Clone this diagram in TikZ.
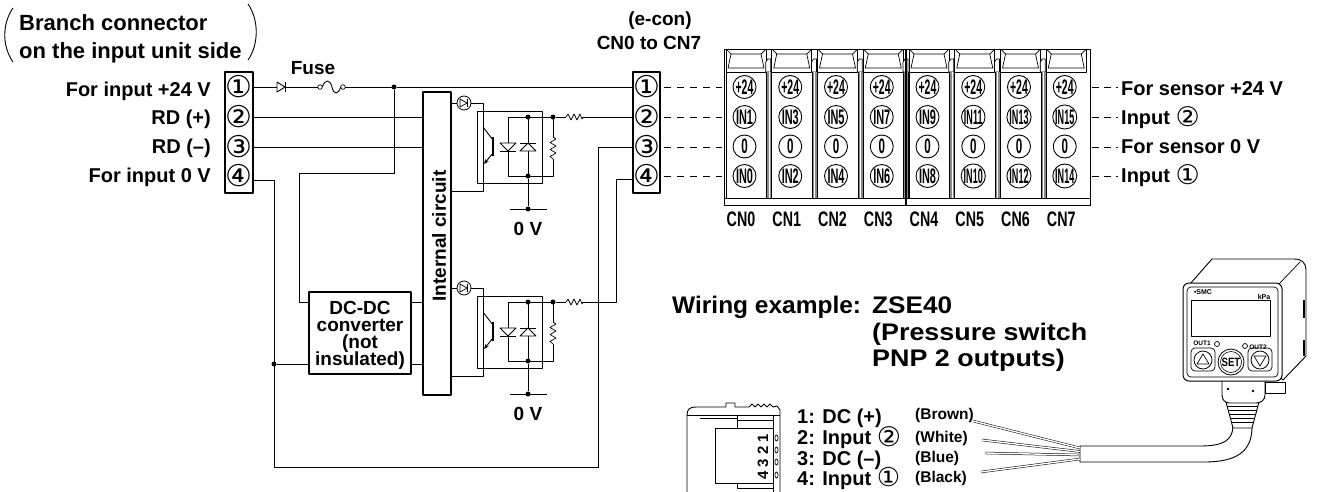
\documentclass[tikz,border=0pt]{standalone}
\usepackage{fontspec}
\usepackage{graphicx}
\setmainfont{Liberation Sans}
\newfontfamily\symfont{DejaVu Sans}
\usetikzlibrary{arrows.meta,calc}

\newcommand{\setfs}[1]{\fontsize{#1}{#1}\selectfont}
\newcommand{\cnd}[2][0.62]{\scalebox{#1}[1]{#2}}
\newcommand{\cnum}[1]{\raisebox{-2.5pt}{\symfont\setfs{27}\mdseries #1}}
\newcommand{\cnumlow}[1]{\raisebox{-1pt}{\symfont\setfs{26}\mdseries #1}}

\tikzset{
  wire/.style={line width=0.9pt},
  frame/.style={draw, line width=1.1pt, inner sep=0pt, fill=white},
  lbl/.style={font=\setfs{20}\bfseries, inner sep=0pt},
  mlbl/.style={font=\setfs{19}\bfseries, inner sep=0pt},
  blbl/.style={font=\setfs{24}\bfseries, inner sep=0pt},
  tlbl/.style={font=\setfs{22}\bfseries, inner sep=0pt},
  clbl/.style={font=\setfs{15.5}\bfseries, inner sep=0pt},
  pinnum/.style={font=\symfont\setfs{30}, inner sep=0pt},
  jdot/.style={circle, fill, inner sep=0pt, minimum size=5pt},
  cpin/.style={circle, draw, line width=0.9pt, minimum size=23pt, inner sep=0pt, fill=white, font=\setfs{21}\bfseries},
  cnlbl/.style={font=\setfs{21}\bfseries, inner sep=0pt},
  lead/.style={double=white, double distance=1.4pt, line width=0.5pt},
  fine/.style={line width=0.7pt},
}

\begin{document}
\begin{tikzpicture}[x=1pt, y=-1pt, line join=round]
\useasboundingbox (0,0) rectangle (1317,491);
\fill[white] (0,0) rectangle (1317,491);

% ---------- branch connector on the input unit side ----------
\node[tlbl, anchor=base west] (title1) at (19,30) {Branch connector};
\node[tlbl, anchor=base west] (title2) at (19,58) {on the input unit side};
\draw[wire] (13,8) .. controls (2,24) and (2,46) .. (13,62);
\draw[wire] (248,4) .. controls (259,20) and (259,44) .. (248,60);

\node[frame, minimum width=28pt, minimum height=121pt] (LB) at (239,132.5) {};
\foreach \n/\y/\ch in {1/87/①,2/117/②,3/147/③,4/176/④}
  \node[pinnum] (L\n) at (239,\y) {\ch};

\node[lbl, anchor=base east] (lin1) at (211,96) {For input +24 V};
\node[lbl, anchor=base east] (lin2) at (211,124) {RD (+)};
\node[lbl, anchor=base east] (lin3) at (211,153) {RD (–)};
\node[lbl, anchor=base east] (lin4) at (211,182) {For input 0 V};

% ---------- supply path: diode, fuse ----------
\coordinate (d1a) at (277,87);
\coordinate (d1b) at (285,87);
\coordinate (fa) at (320,87);
\coordinate (fb) at (343,87);
\coordinate (j24) at (394,87);
\draw[wire] (LB.east |- d1a) -- (d1a);
\filldraw[wire, fill=white] (277,82) -- (277,92) -- (285,87) -- cycle;
\draw[wire] (285,82) -- (285,92);
\draw[wire] (d1b) -- ($(fa)+(-2.3,0)$);
\node[mlbl, anchor=base] (fuselbl) at (313,74) {Fuse};
\draw[fine] (fa) circle (2.3);
\draw[fine] (fb) circle (2.3);
\draw[wire] (322.3,87) .. controls (325,79) and (330,79) .. (332,87) .. controls (334,95) and (338,95) .. (340.7,87);
\draw[wire] (345.3,87) -- (j24);
\node[jdot] (dot24) at (j24) {};

% ---------- internal circuit and DC-DC converter ----------
\node[frame, minimum width=28pt, minimum height=303pt] (IC) at (437,243.5) {};
\node[mlbl, rotate=90] (ictext) at (439,236) {Internal circuit};

\node[frame, minimum width=102pt, minimum height=82pt] (DC) at (360,333) {};
\node[font=\setfs{19}\bfseries, inner sep=0pt, anchor=base] (dct1) at (360,314) {DC-DC};
\node[font=\setfs{19}\bfseries, inner sep=0pt, anchor=base] (dct2) at (360,331) {converter};
\node[font=\setfs{19}\bfseries, inner sep=0pt, anchor=base] (dct3) at (360,348) {(not};
\node[font=\setfs{19}\bfseries, inner sep=0pt, anchor=base] (dct4) at (360,365) {insulated)};

\coordinate (k1) at (394,173);
\coordinate (k2) at (299,173);
\coordinate (k3) at (299,302);
\draw[wire] (dot24) -- (k1) -- (k2) -- (k3) -- (DC.west |- k3);
\draw[wire] (LB.east |- L2) -- (IC.west |- L2);
\draw[wire] (LB.east |- L3) -- (IC.west |- L3);
\coordinate (dc1) at (411,302);
\coordinate (dc2) at (411,364);
\draw[wire] (DC.east |- dc1) -- (IC.west |- dc1);
\draw[wire] (DC.east |- dc2) -- (IC.west |- dc2);

% 0 V return
\coordinate (g1) at (274,180);
\coordinate (g2) at (274,467);
\coordinate (g3) at (598,467);
\coordinate (g4) at (598,147);
\coordinate (gdc) at (274,364);
\draw[wire] (LB.east |- g1) -- (g1) -- (g2) -- (g3) -- (g4);
\node[jdot] (dotdc) at (gdc) {};
\draw[wire] (dotdc) -- (DC.west |- gdc);

% ---------- two input channels ----------
\foreach \c/\dy in {A/0,B/185} {
\begin{scope}[shift={(0,\dy)}]
  \node[circle, draw, line width=0.8pt, minimum size=14pt, inner sep=0pt] (led\c) at (464,103) {};
  \draw[fine] (460,99) -- (460,107) -- (467,103) -- cycle;
  \draw[fine] (467,99) -- (467,107);
  \coordinate (ret\c) at (483,191);
  \draw[wire] (IC.east |- led\c) -- (led\c.west);
  \draw[wire] (led\c.east) -- (483,103) -- (ret\c) -- (IC.east |- ret\c);
  \node[draw, line width=0.9pt, minimum width=65pt, minimum height=72pt, inner sep=0pt] (opto\c) at (509.5,147) {};
  % phototransistor
  \draw[line width=1.3pt] (493,137) -- (493,156);
  \draw[wire] (483,127) -- (493,140);
  \draw[wire, -{Stealth[length=5pt,width=4pt]}] (493,153) -- (484,164);
  % anti-parallel diodes and shunt resistor
  \draw[wire] (553,137) -- (553,117) -- (508,117) -- (508,176) -- (553,176) -- (553,159);
  \draw[wire] (528,117) -- (528,176);
  \draw[fine] (553,137) -- (556,139) -- (550,142.5) -- (556,146) -- (550,149.5) -- (556,153) -- (550,156.5) -- (553,159);
  \filldraw[wire, fill=white] (500,143) -- (516,143) -- (508,151) -- cycle;
  \draw[wire] (500,151) -- (516,151);
  \filldraw[wire, fill=white] (520,151) -- (536,151) -- (528,143) -- cycle;
  \draw[wire] (520,143) -- (536,143);
  \node[jdot] (jt\c) at (528,117) {};
  \node[jdot] (jr\c) at (553,117) {};
  \node[jdot] (jb\c) at (528,176) {};
  % 0 V
  \node[jdot] (gnd\c) at (528,209) {};
  \draw[wire] (jb\c) -- (gnd\c);
  \draw[line width=1pt] (510,209) -- (547,209);
  \node[mlbl, anchor=base] (zv\c) at (528,235) {0 V};
  % series resistor
  \draw[wire] (jr\c) -- (566,117);
  \draw[fine] (566,117) -- (568,114) -- (571,120) -- (574,114) -- (577,120) -- (580,114) -- (582,119) -- (583,117);
  \coordinate (rout\c) at (583,117);
\end{scope}
}

% ---------- e-con terminal block ----------
\node[mlbl, anchor=base] (econ) at (660,25) {(e-con)};
\node[mlbl, anchor=base] (econ2) at (649,49) {CN0 to CN7};
\node[frame, minimum width=27pt, minimum height=121pt] (RB) at (646.5,132.5) {};
\foreach \n/\y/\ch in {1/87/①,2/117/②,3/147/③,4/176/④}
  \node[pinnum] (R\n) at (646.5,\y) {\ch};

\draw[wire] (dot24) -- (RB.west |- j24);
\draw[wire] (routA) -- (RB.west |- routA);
\draw[wire] (g4) -- (RB.west |- g4);
\coordinate (q1) at (616,302);
\coordinate (q2) at (616,179);
\draw[wire] (routB) -- (q1) -- (q2) -- (RB.west |- q2);

\foreach \y in {87,117,147,176} {
  \coordinate (dl\y) at (664,\y);
  \coordinate (dr\y) at (722,\y);
  \draw[wire, dash pattern=on 7pt off 6pt] (dl\y) -- (dr\y);
}

% ---------- CN0 to CN7 connector array ----------
\def\pitch{45.75}
\draw[line width=1pt] (724,49) rectangle (1090,205);
\draw[fine] (724,198) -- (1090,198);
\foreach \i in {0,...,7} {
  \pgfmathsetmacro\L{724+\i*\pitch}
  \pgfmathtruncatemacro\odd{2*\i+1}
  \pgfmathtruncatemacro\even{2*\i}
  \pgfmathsetmacro\so{\odd>9 ? 0.43 : 0.52}
  \pgfmathsetmacro\se{\even>9 ? 0.43 : 0.52}
  % latch
  \draw[fine] (\L+2,49) -- (\L+2,72) -- (\L+42,72) -- (\L+42,49);
  \draw[fine] (\L+7,54) -- (\L+37,54) -- (\L+40,68) -- (\L+4,68) -- cycle;
  \draw[fine] (\L+2,49) -- (\L+7,54);
  \draw[fine] (\L+42,49) -- (\L+37,54);
  % connector body side
  \draw[fine] (\L+2,72) -- (\L+2,198);
  % pins
  \node[cpin] (p\i a) at (\L+20.5,87) {\cnd[0.5]{+24}};
  \node[cpin] (p\i b) at (\L+20.5,117) {\cnd[\so]{IN\odd}};
  \node[cpin] (p\i c) at (\L+20.5,146.5) {\cnd[0.55]{0}};
  \node[cpin] (p\i d) at (\L+20.5,176) {\cnd[\se]{IN\even}};
  \node[cnlbl] (cn\i) at (\L+17,219) {\cnd[0.68]{CN\i}};
}
\foreach \i in {1,...,7} {
  \pgfmathsetmacro\B{724+\i*\pitch}
  \draw[fine, fill=white] (\B-4,62) -- (\B-2,59) -- (\B+1,59) -- (\B+1,72) -- (\B-4,72) -- cycle;
  \fill[black!45] (\B-3.5,72) rectangle (\B+1.5,198);
  \draw[line width=0.5pt] (\B-3.5,72) -- (\B-3.5,198);
  \draw[line width=0.5pt] (\B+1.5,72) -- (\B+1.5,198);
  \draw[line width=0.5pt, white] (\B-1,72) -- (\B-1,198);
}
\draw[line width=1.3pt] (724+4*\pitch-1,49) -- (724+4*\pitch-1,205);

\foreach \y in {87,117,147,176} {
  \coordinate (el\y) at (1092,\y);
  \coordinate (er\y) at (1118,\y);
  \draw[wire, dash pattern=on 7pt off 5pt] (el\y) -- (er\y);
}
\node[lbl, anchor=base west] (s1) at (1121,95) {For sensor +24 V};
\node[lbl, anchor=base west] (s2) at (1121,124) {Input \cnum{②}};
\node[lbl, anchor=base west] (s3) at (1121,153) {For sensor 0 V};
\node[lbl, anchor=base west] (s4) at (1121,182) {Input \cnum{①}};

% ---------- wiring example ----------
\node[blbl, anchor=base west] (we1) at (672,313) {\cnd[1.02]{Wiring example:}};
\node[blbl, anchor=base west] (we2) at (872,313) {\cnd[1.09]{ZSE40}};
\node[blbl, anchor=base west] (we3) at (872,340) {\cnd[1.12]{(Pressure switch}};
\node[blbl, anchor=base west] (we4) at (872,366) {\cnd[1.12]{PNP 2 outputs)}};

% sensor plug
\draw[wire] (687,492) -- (687,415) .. controls (687,409) and (690,407) .. (696,407) -- (726,407) -- (726,403) -- (735,403) -- (735,407)
  -- (749,407) -- (752,404) -- (755,407) -- (758,404) -- (761,407) -- (764,404) -- (767,407) -- (770,404) -- (773,407) -- (777,406) -- (780,410) -- (780,492);
\draw[fine] (687,415) -- (780,415);
\draw[fine] (700,418) -- (737,418);
\draw[fine] (737,415) -- (737,428);
\draw[fine] (737,420) -- (773,420);
\draw[wire, fill=white] (715,428) rectangle (773,483);
\draw[fine] (773,415) -- (773,492);
\draw[fine] (737,483) -- (737,488) -- (773,488);
\foreach \y in {438,450,462,475}
  \draw[fine] (776.5,\y) ellipse (1.6 and 3);
\node[font=\setfs{15}\bfseries, inner sep=0pt, rotate=90] (plugnum) at (763,457) {4 3 2 1};

\node[lbl, anchor=base west] (c1) at (797,423) {1: DC (+)};
\node[lbl, anchor=base west] (c2) at (797,444) {2: Input \cnum{②}};
\node[lbl, anchor=base west] (c3) at (797,465) {3: DC (–)};
\node[lbl, anchor=base west] (c4) at (797,485) {4: Input \cnumlow{①}};

\node[clbl, anchor=base west] (brown) at (915,419) {(Brown)};
\node[clbl, anchor=base west] (white) at (915,442) {(White)};
\node[clbl, anchor=base west] (blue) at (915,462) {(Blue)};
\node[clbl, anchor=base west] (black) at (915,482) {(Black)};

% cable and leads
\coordinate (cab1) at (1080,446);
\coordinate (cab2) at (1080,462);
\filldraw[wire, fill=white] (cab1) -- (1200,446) .. controls (1224,446) and (1232,440) .. (1233,427)
  -- (1252,427) .. controls (1252,452) and (1236,462) .. (1204,462) -- (cab2) -- cycle;
\coordinate (lb) at (973,421);
\coordinate (lw) at (982,440);
\coordinate (lu) at (985,453);
\coordinate (lk) at (981,472);
\draw[lead] (lb) -- (1080,448);
\draw[lead] (lw) -- (1080,451.5);
\draw[lead] (lu) -- (1080,455);
\draw[lead] (lk) -- (1080,459);

% pressure switch body
\filldraw[wire, fill=white] (1190,284) -- (1212,259) -- (1294,259) .. controls (1302,259) and (1306,263) .. (1306,270)
  -- (1306,356) -- (1283,380) -- cycle;
\draw[fine] (1278,285) -- (1300,262);
\draw[line width=1.5pt] (1304,300) -- (1304,318);
\draw[line width=1.5pt] (1304,340) -- (1304,356);
% threaded fitting
\filldraw[wire, fill=white] (1226,402) -- (1233,428) -- (1252,428) -- (1259,402) -- cycle;
\foreach \y in {406,410,414,418,422}
  \draw[fine] (1226+\y/4-100.5,\y) -- (1259-\y/4+100.5,\y);
\filldraw[wire, fill=white] (1222,380) -- (1222,395) .. controls (1222,400) and (1225,403) .. (1230,403) -- (1256,403)
  .. controls (1261,403) and (1265,400) .. (1265,395) -- (1265,380);
\draw[fine] (1265,382) rectangle (1285,393);
\fill (1228,389) circle (1.3);
\fill (1253,391) circle (1.3);
% front face
\filldraw[line width=1pt, fill=white, rounded corners=6pt] (1183,283) rectangle (1282,381);
\draw[fine, rounded corners=4pt] (1187,287) rectangle (1278,377);
\draw[line width=0.8pt] (1191,300) rectangle (1270,336);
\node[font=\setfs{7}\bfseries, inner sep=0pt] (smc) at (1203,292) {\textbullet SMC};
\node[font=\setfs{7}\bfseries, inner sep=0pt] (kpa) at (1264,297) {kPa};
\node[font=\setfs{6.5}\bfseries, inner sep=0pt] (out1) at (1202,343) {OUT1};
\node[font=\setfs{6.5}\bfseries, inner sep=0pt] (out2) at (1258,347) {OUT2};
\draw[fine] (1217,344) circle (2.5);
\draw[fine] (1245,346) circle (2.5);
\draw[fine, rounded corners=4pt] (1191,348) rectangle (1215,371);
\draw[fine, rounded corners=4pt] (1248,348) rectangle (1272,371);
\node[circle, draw, line width=0.8pt, minimum size=18pt, inner sep=0pt] (bup) at (1203,360) {};
\node[circle, draw, line width=0.8pt, minimum size=18pt, inner sep=0pt] (bdn) at (1260,360) {};
\draw[fine] (1197,364) -- (1209,364) -- (1203,354) -- cycle;
\draw[fine] (1254,356) -- (1266,356) -- (1260,366) -- cycle;
\node[circle, draw, line width=0.8pt, minimum size=26pt, inner sep=0pt] (bset) at (1231,362) {};
\node[circle, draw, line width=0.6pt, minimum size=21pt, inner sep=0pt, font=\setfs{12}\bfseries] (bset2) at (1231,362) {\cnd[0.8]{SET}};
\end{tikzpicture}
\end{document}
